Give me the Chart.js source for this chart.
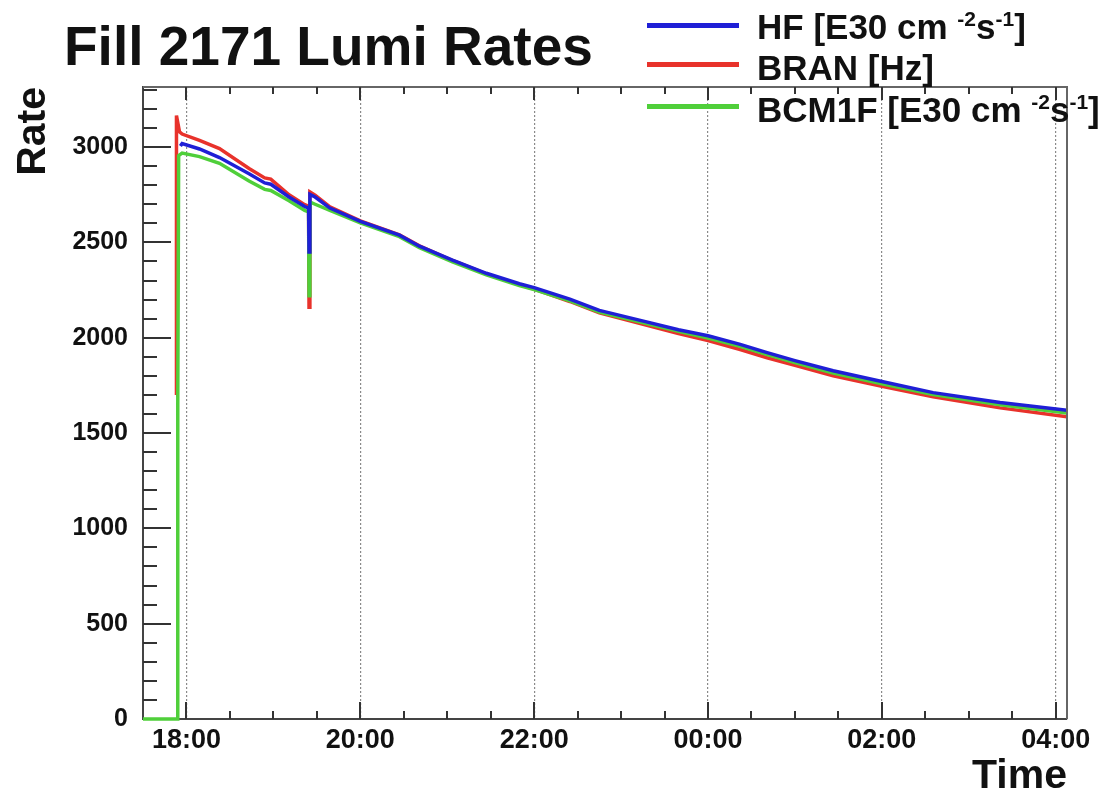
<!DOCTYPE html>
<html>
<head>
<meta charset="utf-8">
<script src="https://cdn.jsdelivr.net/npm/chart.js@4"></script>
<style>
  html, body { margin: 0; padding: 0; background: #fff; }
  #wrap { position: relative; width: 1107px; height: 793px; font-family: 'Liberation Sans', Arial, sans-serif; }
  #plot { position: absolute; left: 0; top: 0; }
  .title { position: absolute; left: 64px; top: 19px; font-size: 55px; font-weight: bold; line-height: 55px; color: #111; white-space: nowrap; }
  .key { position: absolute; left: 647px; width: 92px; height: 5px; }
  .keytext { position: absolute; left: 757px; font-size: 35px; font-weight: bold; line-height: 35px; color: #111; white-space: nowrap; }
  .keytext sup { font-size: 21px; vertical-align: 13px; line-height: 0; }
</style>
</head>
<body>
<div id="wrap">
  <canvas id="plot" width="1107" height="793"></canvas>
  <div class="title">Fill 2171 Lumi Rates</div>
  <div class="key" style="top:23px;background:#1f1fd6"></div>
  <div class="keytext" style="top:9px">HF [E30 cm <sup>-2</sup>s<sup>-1</sup>]</div>
  <div class="key" style="top:62px;background:#e8322b"></div>
  <div class="keytext" style="top:50px">BRAN [Hz]</div>
  <div class="key" style="top:104px;background:#4fcf3a"></div>
  <div class="keytext" style="top:92px">BCM1F [E30 cm <sup>-2</sup>s<sup>-1</sup>]</div>
</div>
<script>
// time in hours after 18:00, rates as read per detector
const hfHours = [-0.07, -0.05, 0.15, 0.38, 0.72, 0.90, 0.97, 1.18, 1.36, 1.405, 1.41, 1.42, 1.48, 1.65, 2.0, 2.45, 2.68, 3.06, 3.45, 3.83, 4.0, 4.41, 4.75, 5.21, 5.66, 6.0, 6.37, 6.68, 7.0, 7.44, 8.0, 8.59, 9.36, 10.13];
const hfRate = [3005, 3018, 2990, 2945, 2860, 2812, 2805, 2738, 2688, 2680, 2450, 2752, 2738, 2680, 2610, 2538, 2480, 2407, 2338, 2283, 2263, 2202, 2143, 2092, 2042, 2010, 1965, 1922, 1880, 1827, 1770, 1712, 1660, 1620];

const branHours = [-0.12, -0.115, -0.08, -0.05, 0.15, 0.38, 0.72, 0.90, 0.97, 1.18, 1.36, 1.405, 1.41, 1.42, 1.48, 1.65, 2.0, 2.45, 2.68, 3.06, 3.45, 3.83, 4.0, 4.41, 4.75, 5.21, 5.66, 6.0, 6.37, 6.68, 7.0, 7.44, 8.0, 8.59, 9.36, 10.13];
const branRate = [1700, 3165, 3080, 3068, 3035, 2992, 2888, 2838, 2832, 2750, 2698, 2690, 2160, 2765, 2748, 2686, 2613, 2540, 2482, 2405, 2335, 2277, 2255, 2190, 2130, 2075, 2022, 1985, 1938, 1895, 1855, 1800, 1745, 1690, 1632, 1585];

const bcmHours = [-0.5, -0.105, -0.1, -0.09, -0.05, 0.15, 0.38, 0.72, 0.90, 0.97, 1.18, 1.36, 1.405, 1.41, 1.42, 1.48, 1.65, 2.0, 2.45, 2.68, 3.06, 3.45, 3.83, 4.0, 4.41, 4.75, 5.21, 5.66, 6.0, 6.37, 6.68, 7.0, 7.44, 8.0, 8.59, 9.36, 10.13];
const bcmRate = [0, 0, 1650, 2955, 2968, 2950, 2915, 2822, 2778, 2772, 2718, 2668, 2660, 2220, 2712, 2700, 2668, 2602, 2530, 2472, 2398, 2330, 2273, 2252, 2193, 2135, 2083, 2033, 1998, 1955, 1912, 1870, 1815, 1758, 1702, 1648, 1605];

const clockHours = [0, 2, 4, 6, 8, 10];
const clockLabels = ['18:00', '20:00', '22:00', '00:00', '02:00', '04:00'];
const rateTicks = [0, 500, 1000, 1500, 2000, 2500, 3000];

function points(hours, rates) {
  return hours.map((h, i) => ({ x: h, y: rates[i] }));
}

Chart.defaults.font.family = "'Liberation Sans', Arial, sans-serif";
Chart.defaults.color = '#111';

// ROOT style frame: inward ticks on left, bottom and top, plus top/right border
const frameTicks = {
  id: 'frameTicks',
  afterDraw(chart) {
    const { ctx, chartArea: a, scales: { x, y } } = chart;
    ctx.save();
    ctx.strokeStyle = '#666';
    ctx.lineWidth = 2;
    ctx.beginPath();
    ctx.moveTo(a.left, a.top); ctx.lineTo(a.right, a.top); ctx.lineTo(a.right, a.bottom);
    ctx.stroke();

    ctx.strokeStyle = '#333';
    ctx.lineWidth = 2;
    ctx.beginPath();
    for (let v = 100; v <= y.max; v += 100) {
      const py = Math.round(y.getPixelForValue(v));
      const len = v % 500 === 0 ? 28 : 14;
      ctx.moveTo(a.left, py); ctx.lineTo(a.left + len, py);
    }
    for (let h = 0; h <= x.max; h += 0.5) {
      const px = Math.round(x.getPixelForValue(h));
      const major = h % 2 === 0;
      ctx.moveTo(px, a.bottom); ctx.lineTo(px, a.bottom - (major ? 17 : 8));
      ctx.moveTo(px, a.top); ctx.lineTo(px, a.top + (major ? 13 : 7));
    }
    ctx.stroke();
    ctx.restore();
  }
};

new Chart(document.getElementById('plot'), {
  type: 'line',
  data: {
    datasets: [
      { label: 'HF', data: points(hfHours, hfRate), borderColor: '#1f1fd6', borderWidth: 3.5, order: 0 },
      { label: 'BRAN', data: points(branHours, branRate), borderColor: '#e8322b', borderWidth: 3.5, order: 2 },
      { label: 'BCM1F', data: points(bcmHours, bcmRate), borderColor: '#4fcf3a', borderWidth: 3.5, order: 1, clip: 4 }
    ]
  },
  options: {
    responsive: false,
    animation: false,
    events: [],
    elements: { point: { radius: 0 }, line: { tension: 0 } },
    layout: { padding: { left: 0, top: 87, right: 40, bottom: 0 } },
    plugins: { legend: { display: false }, tooltip: { enabled: false } },
    scales: {
      x: {
        type: 'linear',
        min: -0.5,
        max: 10.13,
        afterBuildTicks(axis) { axis.ticks = clockHours.map(v => ({ value: v })); },
        afterFit(axis) { axis.height = 74; },
        ticks: {
          autoSkip: false,
          maxRotation: 0,
          padding: 5,
          font: { size: 27, weight: 'bold' },
          callback(v, i) { return clockLabels[i]; }
        },
        grid: { drawTicks: false, lineWidth: 1.2, color: '#8a8a8a' },
        border: { display: true, color: '#444', width: 2, dash: [2, 2] },
        title: {
          display: true, text: 'Time', align: 'end',
          font: { size: 41, weight: 'bold' },
          padding: { top: 0, bottom: -8 }
        }
      },
      y: {
        min: 0,
        max: 3315,
        afterBuildTicks(axis) { axis.ticks = rateTicks.map(v => ({ value: v })); },
        afterFit(axis) { axis.width = 143; },
        ticks: {
          autoSkip: false,
          padding: 15,
          font: { size: 25, weight: 'bold' },
          callback(v) { return String(v); }
        },
        grid: { display: false, drawTicks: false },
        border: { display: true, color: '#444', width: 2 },
        title: {
          display: true, text: 'Rate', align: 'end',
          font: { size: 41, weight: 'bold' },
          padding: { top: 9, bottom: 0 }
        }
      }
    }
  },
  plugins: [frameTicks]
});
</script>
</body>
</html>
